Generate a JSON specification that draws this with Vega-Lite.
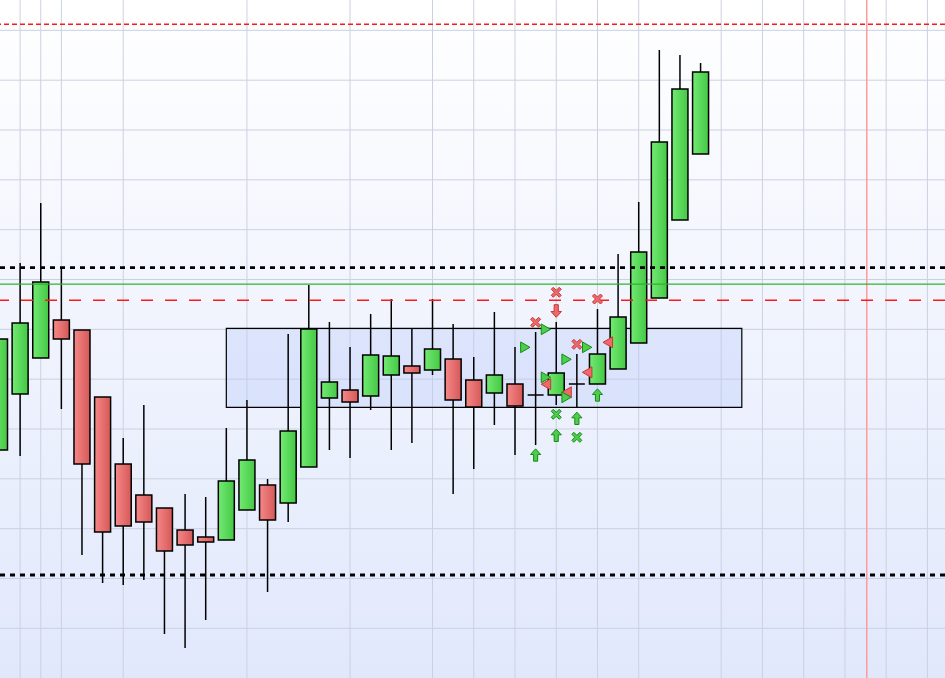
{
  "$schema": "https://vega.github.io/schema/vega-lite/v6.json",
  "width": 945,
  "height": 678,
  "autosize": "none",
  "padding": 0,
  "background": "#ffffff",
  "config": {"view": {"stroke": null}, "scale": {"continuousPadding": 0}},
  "view": {
    "stroke": null,
    "fill": {"gradient": "linear", "x1": 0, "y1": 0, "x2": 0, "y2": 1,
      "stops": [{"offset": 0, "color": "#ffffff"}, {"offset": 1, "color": "#e1e8fc"}]}
  },
  "datasets": {
    "candles": [
      {"i":0,"o":135.78,"c":158.06,"h":158.06,"l":135.78},
      {"i":1,"o":147.02,"c":161.27,"h":173.31,"l":134.58},
      {"i":2,"o":154.24,"c":169.50,"h":185.35,"l":154.24},
      {"i":3,"o":161.87,"c":158.06,"h":172.30,"l":144.01},
      {"i":4,"o":159.86,"c":132.97,"h":159.86,"l":114.71},
      {"i":5,"o":146.42,"c":119.33,"h":146.42,"l":109.09},
      {"i":6,"o":132.97,"c":120.53,"h":138.19,"l":108.69},
      {"i":7,"o":126.75,"c":121.33,"h":144.81,"l":109.69},
      {"i":8,"o":124.14,"c":115.51,"h":124.14,"l":98.86},
      {"i":9,"o":119.73,"c":116.72,"h":126.95,"l":96.05},
      {"i":10,"o":118.32,"c":117.32,"h":126.35,"l":101.67},
      {"i":11,"o":117.72,"c":129.56,"h":140.20,"l":117.72},
      {"i":12,"o":123.74,"c":133.77,"h":145.82,"l":123.74},
      {"i":13,"o":128.76,"c":121.73,"h":129.96,"l":107.28},
      {"i":14,"o":125.15,"c":139.59,"h":159.06,"l":121.33},
      {"i":15,"o":132.37,"c":160.06,"h":168.89,"l":132.37},
      {"i":16,"o":146.22,"c":149.43,"h":161.47,"l":135.78},
      {"i":17,"o":147.82,"c":145.41,"h":156.45,"l":134.18},
      {"i":18,"o":146.62,"c":154.85,"h":163.07,"l":143.81},
      {"i":19,"o":150.83,"c":154.65,"h":166.08,"l":135.78},
      {"i":20,"o":152.64,"c":151.23,"h":160.26,"l":137.19},
      {"i":21,"o":151.84,"c":156.05,"h":166.08,"l":150.83},
      {"i":22,"o":154.04,"c":145.82,"h":161.07,"l":126.95},
      {"i":23,"o":149.83,"c":144.41,"h":154.44,"l":131.97},
      {"i":24,"o":147.22,"c":150.83,"h":163.48,"l":140.80},
      {"i":25,"o":149.03,"c":144.61,"h":156.45,"l":134.78},
      {"i":26,"o":146.82,"c":146.82,"h":159.46,"l":136.78},
      {"i":27,"o":146.82,"c":151.23,"h":161.47,"l":144.81},
      {"i":28,"o":149.03,"c":149.03,"h":155.05,"l":144.41},
      {"i":29,"o":149.03,"c":155.05,"h":164.08,"l":149.03},
      {"i":30,"o":152.04,"c":162.47,"h":175.11,"l":152.04},
      {"i":31,"o":157.25,"c":175.52,"h":185.55,"l":157.25},
      {"i":32,"o":166.28,"c":197.59,"h":216.05,"l":166.28},
      {"i":33,"o":181.94,"c":208.23,"h":215.05,"l":181.94},
      {"i":34,"o":195.18,"c":211.64,"h":213.44,"l":195.18}
    ],
    "markers": [
      {"i":27,"p":167.43,"k":"x","s":"sell"},
      {"i":29,"p":166.08,"k":"x","s":"sell"},
      {"i":27,"p":163.68,"k":"down","s":"sell"},
      {"i":26,"p":161.41,"k":"x","s":"sell"},
      {"i":26.5,"p":160.00,"k":"tr","s":"buy"},
      {"i":25.5,"p":156.39,"k":"tr","s":"buy"},
      {"i":28,"p":156.99,"k":"x","s":"sell"},
      {"i":28.5,"p":156.39,"k":"tr","s":"buy"},
      {"i":27.5,"p":153.98,"k":"tr","s":"buy"},
      {"i":29.5,"p":157.39,"k":"tl","s":"sell"},
      {"i":28.5,"p":151.37,"k":"tl","s":"sell"},
      {"i":26.5,"p":150.37,"k":"tr","s":"buy"},
      {"i":26.5,"p":148.97,"k":"tl","s":"sell"},
      {"i":27.5,"p":147.36,"k":"tl","s":"sell"},
      {"i":27.5,"p":146.36,"k":"tr","s":"buy"},
      {"i":29,"p":146.82,"k":"up","s":"buy"},
      {"i":27,"p":142.95,"k":"x","s":"buy"},
      {"i":28,"p":142.14,"k":"up","s":"buy"},
      {"i":27,"p":138.73,"k":"up","s":"buy"},
      {"i":28,"p":138.33,"k":"x","s":"buy"},
      {"i":26,"p":134.78,"k":"up","s":"buy"}
    ],
    "hgrid": [
      {"p":100},{"p":110},{"p":120},{"p":130},{"p":140},{"p":150},{"p":160},
      {"p":170},{"p":180},{"p":190},{"p":200},{"p":210},{"p":220}
    ],
    "vgrid": [
      {"i":1},{"i":2},{"i":3},{"i":6},{"i":12},{"i":17},{"i":21},{"i":23},{"i":25},
      {"i":27},{"i":29},{"i":31},{"i":35},{"i":37},{"i":39},{"i":41},{"i":43},{"i":45}
    ],
    "box": [{"x1":11,"x2":36,"y1":160.20,"y2":144.35}]
  },
  "layer": [
    {
      "data": {"name": "hgrid"},
      "mark": {"type": "rule", "stroke": "#cbd1e0", "strokeWidth": 1},
      "encoding": {
        "y": {"field": "p", "type": "quantitative", "axis": null,
              "scale": {"domain": [90.03, 226.09], "nice": false, "zero": false}}
      }
    },
    {
      "data": {"name": "vgrid"},
      "mark": {"type": "rule", "stroke": "#cbd1e0", "strokeWidth": 1},
      "encoding": {
        "x": {"field": "i", "type": "quantitative", "axis": null,
              "scale": {"domain": [0.0242, 45.854], "nice": false, "zero": false, "padding": 0}}
      }
    },
    {
      "data": {"values": [{"i": 42.06}]},
      "mark": {"type": "rule", "stroke": "#ff9a9a", "strokeWidth": 1.5},
      "encoding": {
        "x": {"field": "i", "type": "quantitative", "axis": null,
              "scale": {"domain": [0.0242, 45.854], "nice": false, "zero": false, "padding": 0}}
      }
    },
    {
      "data": {"name": "box"},
      "mark": {"type": "rect", "fill": "#b8c9f8", "fillOpacity": 0.35, "stroke": "#000000", "strokeWidth": 1.2},
      "encoding": {
        "x": {"field": "x1", "type": "quantitative", "axis": null,
              "scale": {"domain": [0.0242, 45.854], "nice": false, "zero": false, "padding": 0}},
        "x2": {"field": "x2"},
        "y": {"field": "y1", "type": "quantitative", "axis": null,
              "scale": {"domain": [90.03, 226.09], "nice": false, "zero": false}},
        "y2": {"field": "y2"}
      }
    },
    {
      "data": {"name": "candles"},
      "mark": {"type": "rule", "stroke": "#000000", "strokeWidth": 1.5, "clip": true},
      "encoding": {
        "x": {"field": "i", "type": "quantitative", "axis": null,
              "scale": {"domain": [0.0242, 45.854], "nice": false, "zero": false, "padding": 0}},
        "y": {"field": "l", "type": "quantitative", "axis": null,
              "scale": {"domain": [90.03, 226.09], "nice": false, "zero": false}},
        "y2": {"field": "h"}
      }
    },
    {
      "data": {"name": "candles"},
      "transform": [{"filter": "datum.c >= datum.o"}],
      "mark": {"type": "bar", "size": 16, "clip": true, "stroke": "#000000", "strokeWidth": 1.5,
        "fill": {"gradient": "linear", "x1": 0, "y1": 0, "x2": 1, "y2": 0,
          "stops": [{"offset": 0, "color": "#72ea72"}, {"offset": 1, "color": "#45c845"}]}},
      "encoding": {
        "x": {"field": "i", "type": "quantitative", "axis": null,
              "scale": {"domain": [0.0242, 45.854], "nice": false, "zero": false, "padding": 0}},
        "y": {"field": "o", "type": "quantitative", "axis": null,
              "scale": {"domain": [90.03, 226.09], "nice": false, "zero": false}},
        "y2": {"field": "c"}
      }
    },
    {
      "data": {"name": "candles"},
      "transform": [{"filter": "datum.c < datum.o"}],
      "mark": {"type": "bar", "size": 16, "clip": true, "stroke": "#000000", "strokeWidth": 1.5,
        "fill": {"gradient": "linear", "x1": 0, "y1": 0, "x2": 1, "y2": 0,
          "stops": [{"offset": 0, "color": "#f68888"}, {"offset": 1, "color": "#d65858"}]}},
      "encoding": {
        "x": {"field": "i", "type": "quantitative", "axis": null,
              "scale": {"domain": [0.0242, 45.854], "nice": false, "zero": false, "padding": 0}},
        "y": {"field": "o", "type": "quantitative", "axis": null,
              "scale": {"domain": [90.03, 226.09], "nice": false, "zero": false}},
        "y2": {"field": "c"}
      }
    },
    {
      "data": {"values": [{"p": 221.21}]},
      "mark": {"type": "rule", "stroke": "#ff1a1a", "strokeWidth": 1.5, "strokeDash": [5, 3]},
      "encoding": {"y": {"field": "p", "type": "quantitative", "axis": null,
              "scale": {"domain": [90.03, 226.09], "nice": false, "zero": false}}}
    },
    {
      "data": {"values": [{"p": 172.37}, {"p": 110.70}]},
      "mark": {"type": "rule", "stroke": "#000000", "strokeWidth": 2.8, "strokeDash": [5, 5]},
      "encoding": {"y": {"field": "p", "type": "quantitative", "axis": null,
              "scale": {"domain": [90.03, 226.09], "nice": false, "zero": false}}}
    },
    {
      "data": {"values": [{"p": 169.09}]},
      "mark": {"type": "rule", "stroke": "#2eb42e", "strokeWidth": 1.2},
      "encoding": {"y": {"field": "p", "type": "quantitative", "axis": null,
              "scale": {"domain": [90.03, 226.09], "nice": false, "zero": false}}}
    },
    {
      "data": {"values": [{"p": 165.82}]},
      "mark": {"type": "rule", "stroke": "#ff1a1a", "strokeWidth": 1.5, "strokeDash": [12, 12]},
      "encoding": {"y": {"field": "p", "type": "quantitative", "axis": null,
              "scale": {"domain": [90.03, 226.09], "nice": false, "zero": false}}}
    },
    {
      "data": {"name": "markers"},
      "mark": {"type": "point", "filled": true, "strokeWidth": 1, "opacity": 1},
      "encoding": {
        "x": {"field": "i", "type": "quantitative", "axis": null,
              "scale": {"domain": [0.0242, 45.854], "nice": false, "zero": false, "padding": 0}},
        "y": {"field": "p", "type": "quantitative", "axis": null,
              "scale": {"domain": [90.03, 226.09], "nice": false, "zero": false}},
        "shape": {"field": "k", "type": "nominal", "legend": null,
          "scale": {"domain": ["x", "up", "down", "tr", "tl"],
            "range": [
              "M-1,-0.6L-0.6,-1L0,-0.4L0.6,-1L1,-0.6L0.4,0L1,0.6L0.6,1L0,0.4L-0.6,1L-1,0.6L-0.4,0Z",
              "M0,-1.2L1,-0.1L0.4,-0.1L0.4,1.2L-0.4,1.2L-0.4,-0.1L-1,-0.1Z",
              "M0,1.2L1,0.1L0.4,0.1L0.4,-1.2L-0.4,-1.2L-0.4,0.1L-1,0.1Z",
              "triangle-right",
              "triangle-left"]}},
        "size": {"field": "k", "type": "nominal", "legend": null,
          "scale": {"domain": ["x", "up", "down", "tr", "tl"], "range": [100, 121, 121, 22, 22]}},
        "fill": {"field": "s", "type": "nominal", "legend": null,
          "scale": {"domain": ["buy", "sell"], "range": ["#4fcc4f", "#ec6a6a"]}},
        "stroke": {"field": "s", "type": "nominal", "legend": null,
          "scale": {"domain": ["buy", "sell"], "range": ["#0f8f0f", "#c83838"]}}
      }
    }
  ]
}
